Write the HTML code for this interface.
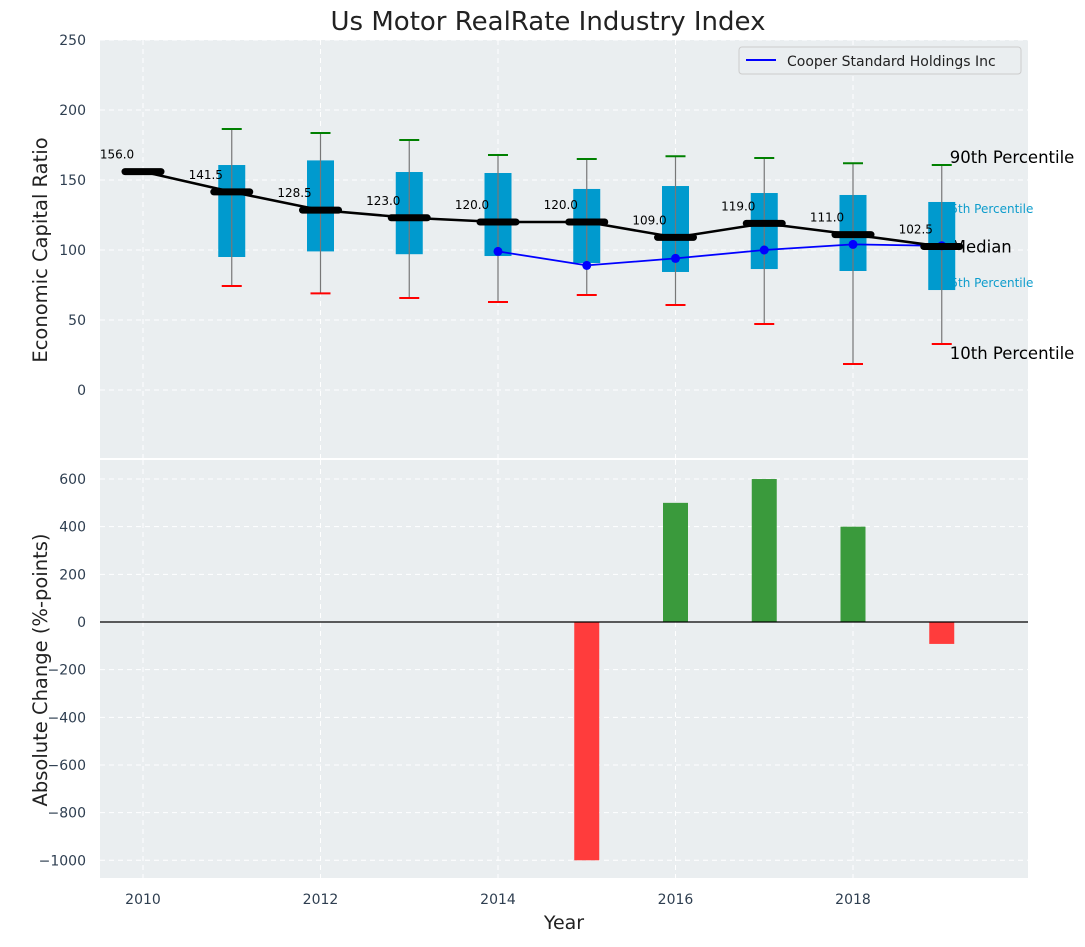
<!DOCTYPE html>
<html><head><meta charset="utf-8"><style>
body{margin:0;background:#fff;}
svg{font-family:"DejaVu Sans","Liberation Sans",sans-serif;}
</style></head><body>
<svg id="c" width="1085" height="942" xmlns="http://www.w3.org/2000/svg">
<text x="548" y="30" text-anchor="middle" font-size="26" fill="#222">Us Motor RealRate Industry Index</text>
<rect x="100" y="40" width="928" height="418" fill="#eaeef0"/>
<rect x="100" y="460" width="928" height="418" fill="#eaeef0"/>
<g id="topg"></g><g id="botg"></g>
<text transform="translate(47,250) rotate(-90)" text-anchor="middle" font-size="19.5" fill="#222">Economic Capital Ratio</text>
<text transform="translate(47,670) rotate(-90)" text-anchor="middle" font-size="19.5" fill="#222">Absolute Change (%-points)</text>
<text x="564" y="929" text-anchor="middle" font-size="19" fill="#222">Year</text>
<g>
<rect x="739" y="47" width="282" height="27" fill="#eaeef0" stroke="#ccc" rx="3"/>
<line x1="746" y1="60" x2="776" y2="60" stroke="blue" stroke-width="2"/>
<text x="787" y="66" font-size="14" fill="#222">Cooper Standard Holdings Inc</text>
</g>
</svg>
<script>
const years=[2010,2011,2012,2013,2014,2015,2016,2017,2018,2019];
const medians=[156,141.5,128.5,123,120,120,109,119,111,102.5];
const boxYears=[2011,2012,2013,2014,2015,2016,2017,2018,2019];
const p25=[95,99,97,95.7,90.7,84.3,86.4,85,71.4];
const p75=[160.7,164,155.7,155,143.6,145.7,140.7,139.3,134.3];
const p10=[74.3,69,65.7,62.9,67.9,60.7,47.1,18.6,32.9];
const p90=[186.4,183.6,178.6,167.9,165,167,165.7,162,160.7];
const compYears=[2014,2015,2016,2017,2018,2019];
const compVals=[99,89,94,100,104,103];
const barYears=[2015,2016,2017,2018,2019];
const barVals=[-1000,500,600,400,-92];
const topTicks=[0,50,100,150,200,250];
const botTicks=[-1000,-800,-600,-400,-200,0,200,400,600];
const xTicks=[2010,2012,2014,2016,2018];

const NS="http://www.w3.org/2000/svg";
const X=y=>143+88.75*(y-2010);
const YT=v=>390-1.4*v;
const YB=v=>622-0.2383*v;
function mk(p,t,a){const e=document.createElementNS(NS,t);for(const k in a)e.setAttribute(k,a[k]);p.appendChild(e);return e;}
const tg=document.getElementById('topg'),bg=document.getElementById('botg');
topTicks.forEach(t=>{mk(tg,'line',{x1:100,x2:1028,y1:YT(t),y2:YT(t),stroke:'#fff','stroke-dasharray':'5,4','stroke-width':1});
const e=mk(tg,'text',{x:86,y:YT(t)+5,'text-anchor':'end','font-size':14,fill:'#2e3e50'});e.textContent=t;

});
botTicks.forEach(t=>{mk(bg,'line',{x1:100,x2:1028,y1:YB(t),y2:YB(t),stroke:'#fff','stroke-dasharray':'5,4','stroke-width':1});
const e=mk(bg,'text',{x:86,y:YB(t)+5,'text-anchor':'end','font-size':14,fill:'#2e3e50'});e.textContent=t.toString().replace('-','−');

});
xTicks.forEach(t=>{mk(tg,'line',{x1:X(t),x2:X(t),y1:40,y2:458,stroke:'#fff','stroke-dasharray':'5,4'});
mk(bg,'line',{x1:X(t),x2:X(t),y1:460,y2:878,stroke:'#fff','stroke-dasharray':'5,4'});
const e=mk(bg,'text',{x:X(t),y:904,'text-anchor':'middle','font-size':14,fill:'#2e3e50'});e.textContent=t;

});
const lx=X(2019)+8;
const labs=[['90th Percentile',p90[8],16.5,'#000',lx,-2],['75th Percentile',p75[8],12,'#0d9ccc',lx-7,11],['Median',medians[9],16.5,'#000',lx+2,6],['25th Percentile',p25[8],12,'#0d9ccc',lx-7,-3],['10th Percentile',p10[8],16.5,'#000',lx,15]];
labs.forEach(d=>{
const e=mk(tg,'text',{x:d[4],y:YT(d[1])+d[5],'font-size':d[2],fill:d[3]});
e.textContent=d[0];

});
boxYears.forEach((y,i)=>{const x=X(y);
const b=mk(tg,'rect',{x:x-13.5,y:YT(p75[i]),width:27,height:YT(p25[i])-YT(p75[i]),fill:'#009ace'});


mk(tg,'line',{x1:x,x2:x,y1:YT(p90[i]),y2:YT(p10[i]),stroke:'#777','stroke-width':1.2});
mk(tg,'line',{x1:x-10,x2:x+10,y1:YT(p90[i]),y2:YT(p90[i]),stroke:'green','stroke-width':2});
mk(tg,'line',{x1:x-10,x2:x+10,y1:YT(p10[i]),y2:YT(p10[i]),stroke:'red','stroke-width':2});});
mk(tg,'polyline',{points:compYears.map((y,i)=>X(y)+','+YT(compVals[i])).join(' '),fill:'none',stroke:'blue','stroke-width':1.8,});
compYears.forEach((y,i)=>{const c=mk(tg,'circle',{cx:X(y),cy:YT(compVals[i]),r:4.5,fill:'blue'});

});
mk(tg,'polyline',{points:years.map((y,i)=>X(y)+','+YT(medians[i])).join(' '),fill:'none',stroke:'#000','stroke-width':2.5,});
years.forEach((y,i)=>{const l=mk(tg,'line',{x1:X(y)-18,x2:X(y)+18,y1:YT(medians[i]),y2:YT(medians[i]),stroke:'#000','stroke-width':7,'stroke-linecap':'round'});


const t=mk(tg,'text',{x:X(y)-26,y:YT(medians[i])-13,'text-anchor':'middle','font-size':12,fill:'#000'});t.textContent=medians[i].toFixed(1);

});
barYears.forEach((y,i)=>{const v=barVals[i];const r=mk(bg,'rect',{x:X(y)-12.5,y:Math.min(YB(v),YB(0)),width:25,height:Math.abs(YB(v)-YB(0)),fill:v>=0?'#3a9a3c':'#ff3c3c'});

});
mk(bg,'line',{x1:100,x2:1028,y1:YB(0),y2:YB(0),stroke:'#000','stroke-width':1.2,});
</script>
</body></html>
